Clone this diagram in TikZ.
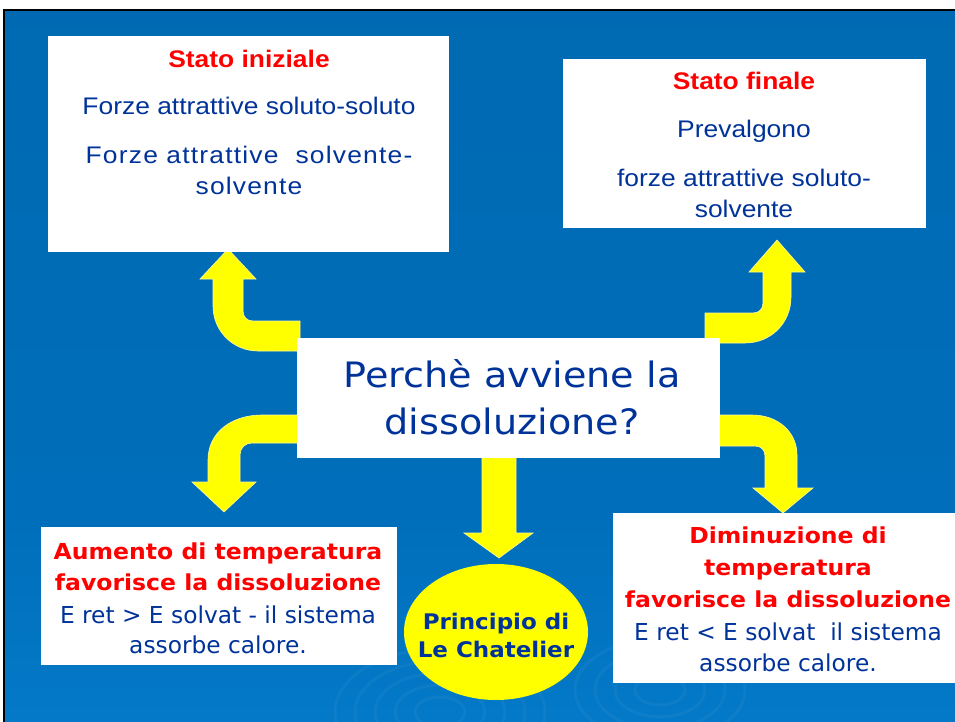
\documentclass[tikz,border=0pt]{standalone}
\usepackage{fontspec}
\usetikzlibrary{shapes.geometric}
\setmainfont{Liberation Sans}
\newfontfamily\arialw[FakeStretch=1.1]{Liberation Sans}
\newfontfamily\arialsp[FakeStretch=1.1,LetterSpace=5]{Liberation Sans}
\newfontfamily\tahb[FakeStretch=1.07]{DejaVu Sans}
\newfontfamily\tahr{DejaVu Sans}
\newfontfamily\comic[FakeStretch=1.09]{DejaVu Sans}
\definecolor{navy}{RGB}{0,51,153}
\definecolor{redtxt}{RGB}{255,0,0}
\definecolor{bgtop}{RGB}{0,102,173}
\definecolor{bgmid}{RGB}{0,110,186}
\definecolor{bgbot}{RGB}{10,140,222}
\definecolor{arrowyellow}{RGB}{255,255,0}
\pgfdeclareverticalshading{slidebg}{100bp}{color(0bp)=(bgbot); color(40bp)=(bgmid); color(100bp)=(bgtop)}
\tikzset{
  whitebox/.style={fill=white, draw=none, inner sep=0pt},
  bigarrow/.style={fill=arrowyellow, draw=yellow!40!white, line width=0.6pt},
  redhead/.style={text=redtxt, font=\arialw\bfseries\fontsize{24}{28}\selectfont, anchor=base, inner sep=0pt},
  topline/.style={text=navy, font=\arialw\fontsize{24}{28}\selectfont, anchor=base, inner sep=0pt},
  topsp/.style={text=navy, font=\arialsp\fontsize{24}{28}\selectfont, anchor=base, inner sep=0pt},
  botred/.style={text=redtxt, font=\tahb\bfseries\fontsize{22}{26}\selectfont, anchor=base, inner sep=0pt},
  botnavy/.style={text=navy, font=\tahr\fontsize{23.3}{26}\selectfont, anchor=base, inner sep=0pt},
  centertext/.style={text=navy, font=\comic\fontsize{35}{40}\selectfont, anchor=base, inner sep=0pt},
  ellipsetext/.style={text=navy, font=\tahb\bfseries\fontsize{21.5}{25}\selectfont, anchor=base, inner sep=0pt},
  ripple/.style={draw=white, draw opacity=0.045, line width=3pt}
}
\begin{document}
\begin{tikzpicture}[x=1pt,y=-1pt]
\useasboundingbox (0,0) rectangle (955,722);
% slide background
\fill[white] (0,0) rectangle (955,722);
\shade[shading=slidebg] (4,10) rectangle (955,722);
\draw[black, line width=2pt] (4,723) -- (4,10) -- (956,10);
% faint ripples
\foreach \r in {25,45,65,85,105} {\draw[ripple] (440,712) ellipse ({\r} and {0.6*\r});}
\foreach \r in {25,45,65,85} {\draw[ripple] (660,690) ellipse ({\r} and {0.6*\r});}

% yellow arrows
\draw[bigarrow] (300,351) -- (258,351) .. controls (233,351) and (213,331) .. (213,306)
  -- (213,279) -- (200,279) -- (228,249) -- (256,279) -- (243,279) -- (243,311)
  .. controls (243,317) and (247,321) .. (253,321) -- (300,321) -- cycle;
\draw[bigarrow] (705,313) -- (753,313) .. controls (759,313) and (763,309) .. (763,303)
  -- (763,272) -- (749,272) -- (777,240) -- (805,272) -- (791,272) -- (791,297)
  .. controls (791,323) and (771,343) .. (745,343) -- (705,343) -- cycle;
\draw[bigarrow] (300,415) -- (262,415) .. controls (232,415) and (208,432) .. (208,460)
  -- (208,482) -- (192,482) -- (224,512) -- (256,482) -- (240,482) -- (240,455)
  .. controls (240,448) and (245,443) .. (252,443) -- (300,443) -- cycle;
\draw[bigarrow] (705,415) -- (752,415) .. controls (778,415) and (797,432) .. (797,455)
  -- (797,488) -- (813,488) -- (783,513) -- (753,488) -- (765,488) -- (765,456)
  .. controls (765,450) and (761,446) .. (755,446) -- (705,446) -- cycle;
\draw[bigarrow] (482,455) -- (482,533) -- (464,533) -- (499,558) -- (533,533)
  -- (516,533) -- (516,455) -- cycle;

% boxes
\node[whitebox, minimum width=401pt, minimum height=216pt] (init) at (248.5,144) {};
\node[whitebox, minimum width=363pt, minimum height=169pt] (fin) at (744.5,143.5) {};
\node[whitebox, minimum width=423pt, minimum height=120pt] (center) at (508.5,398) {};
\node[whitebox, minimum width=356pt, minimum height=138pt] (aum) at (219,596) {};
\node[whitebox, minimum width=345pt, minimum height=170pt] (dim) at (785.5,598) {};
\node[fill=arrowyellow, draw=none, ellipse, minimum width=184pt, minimum height=136pt, inner sep=0pt] (lech) at (496,632) {};

% texts: Stato iniziale
\node[redhead] (t1a) at (249,68) {Stato iniziale};
\node[topline] (t1b) at (249,115) {Forze attrattive soluto-soluto};
\node[topsp] (t1c) at (249,164) {Forze attrattive\ \ solvente-};
\node[topsp] (t1d) at (249,194) {solvente};
% Stato finale
\node[redhead] (t2a) at (744,90) {Stato finale};
\node[topline] (t2b) at (744,138) {Prevalgono};
\node[topline] (t2c) at (744,186) {forze attrattive soluto-};
\node[topline] (t2d) at (744,217) {solvente};
% center
\node[centertext] (c1) at (512,387) {Perchè avviene la};
\node[centertext] (c2) at (512,434) {dissoluzione?};
% aumento
\node[botred] (a1) at (218,559) {Aumento di temperatura};
\node[botred] (a2) at (218,590) {favorisce la dissoluzione};
\node[botnavy] (a3) at (218,623) {E ret > E solvat - il sistema};
\node[botnavy] (a4) at (218,653) {assorbe calore.};
% diminuzione
\node[botred] (d1) at (788,543) {Diminuzione di};
\node[botred] (d2) at (788,575) {temperatura};
\node[botred] (d3) at (788,607) {favorisce la dissoluzione};
\node[botnavy] (d4) at (788,640) {E ret < E solvat\ \ il sistema};
\node[botnavy] (d5) at (788,671) {assorbe calore.};
% Le Chatelier
\node[ellipsetext] (e1) at (496,629) {Principio di};
\node[ellipsetext] (e2) at (496,657) {Le Chatelier};
\end{tikzpicture}
\end{document}
